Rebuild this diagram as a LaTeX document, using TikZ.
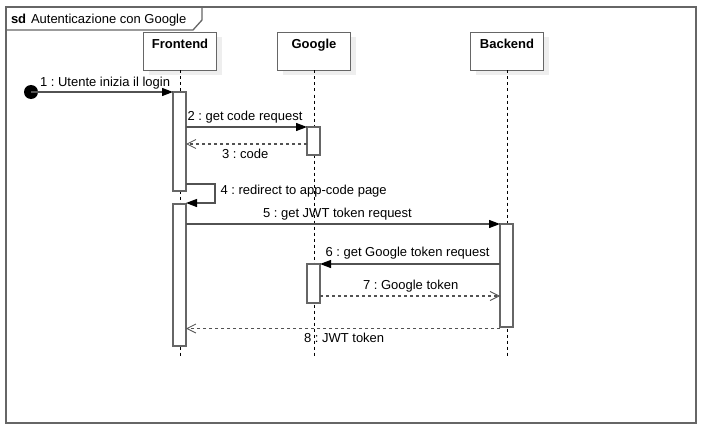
\documentclass[tikz,border=0pt]{standalone}
\usepackage{fontspec}
\setmainfont{Liberation Sans}
\usetikzlibrary{arrows.meta}
\definecolor{linegray}{HTML}{666666}
\definecolor{shadowgray}{HTML}{EEEEEE}
\frenchspacing
\begin{document}
\frenchspacing
\begin{tikzpicture}[x=1pt,y=-1pt,
  every node/.style={font=\fontsize{13}{15}\selectfont, inner sep=0pt, outer sep=0pt, text=black},
  frameline/.style={draw=linegray, line width=1.3pt},
  lifebox/.style={draw=linegray, line width=1.3pt, fill=white, minimum width=73pt, minimum height=38pt},
  shadowbox/.style={fill=shadowgray, minimum width=73pt, minimum height=38pt},
  actbox/.style={draw=linegray, line width=1.3pt, fill=white, minimum width=13pt},
  lifeline/.style={draw=black, line width=0.8pt, dash pattern=on 3pt off 3pt},
  callmsg/.style={draw=linegray!80!black, line width=1.2pt, -{Triangle[length=11pt,width=8pt,fill=black,color=black]}},
  retmsg/.style={draw=linegray!80!black, line width=1.2pt, dash pattern=on 3pt off 3pt, -{Straight Barb[length=9pt,width=9pt,line width=0.8pt]}},
  msglabel/.style={anchor=base west}
]
\useasboundingbox (0,0) rectangle (707,436);
\fill[white] (0,0) rectangle (707,436);

% frame
\draw[frameline] (6,7) rectangle (696,423);
\draw[frameline] (6,30) -- (193,30) -- (202,20) -- (202,7);
\node[anchor=base west] (sd) at (11,24) {\textbf{sd}};
\node[anchor=base west] (title) at (31,24) {Autenticazione con Google};

% lifeline shadows
\node[shadowbox] (fsh) at (185,56.5) {};
\node[shadowbox] (gsh) at (319,56.5) {};
\node[shadowbox] (bsh) at (512,56.5) {};

% lifeline heads
\node[lifebox] (front) at (180,51.5) {};
\node[lifebox] (goog) at (314,51.5) {};
\node[lifebox] (back) at (507,51.5) {};
\node[anchor=base] (frontl) at (180,48.5) {\textbf{Frontend}};
\node[anchor=base] (googl) at (314,48.5) {\textbf{Google}};
\node[anchor=base] (backl) at (507,48.5) {\textbf{Backend}};

% lifelines
\coordinate (fend) at (180,358);
\coordinate (gend) at (314,358);
\coordinate (bend) at (507,358);
\draw[lifeline] (front.south) -- (fend);
\draw[lifeline] (goog.south) -- (gend);
\draw[lifeline] (back.south) -- (bend);

% activations
\node[actbox, minimum height=99pt] (fa1) at (179.5,141.5) {};
\node[actbox, minimum height=142pt] (fa2) at (179.5,275) {};
\node[actbox, minimum height=28pt] (ga1) at (313.5,141) {};
\node[actbox, minimum height=39pt] (ga2) at (313.5,283.5) {};
\node[actbox, minimum height=103pt] (ba1) at (506.5,275.5) {};

% message 1
\node[circle, fill=black, minimum size=14pt] (start) at (31,92) {};
\draw[callmsg] (start.center) -- (fa1.north west);
\node[msglabel] (l1) at (40,86) {1 : Utente inizia il login};

% message 2
\coordinate (m2a) at (186,127);
\draw[callmsg] (m2a) -- (ga1.north west);
\node[msglabel] (l2) at (187.5,121) {2 : get code request};

% message 3
\coordinate (m3a) at (307,144);
\coordinate (m3b) at (186,144);
\draw[retmsg] (m3a) -- (m3b);
\node[msglabel] (l3) at (222,158) {3 : code};

% message 4 (self)
\coordinate (m4a) at (186,184);
\coordinate (m4b) at (186,203);
\draw[callmsg] (m4a) -- (215,184) -- (215,203) -- (m4b);
\node[msglabel] (l4) at (220.5,194) {4 : redirect to app-code page};

% message 5
\coordinate (m5a) at (186,224);
\draw[callmsg] (m5a) -- (ba1.north west);
\node[msglabel] (l5) at (263,217) {5 : get JWT token request};

% message 6
\coordinate (m6a) at (500,264);
\draw[callmsg] (m6a) -- (ga2.north east);
\node[msglabel] (l6) at (325.5,256) {6 : get Google token request};

% message 7
\coordinate (m7a) at (320,296);
\coordinate (m7b) at (500,296);
\draw[retmsg] (m7a) -- (m7b);
\node[msglabel] (l7) at (363,289) {7 : Google token};

% message 8
\coordinate (m8a) at (500,328.5);
\coordinate (m8b) at (186,328.5);
\draw[retmsg] (m8a) -- (m8b);
\node[msglabel] (l8) at (304,342.5) {8 : JWT token};
\end{tikzpicture}
\end{document}
